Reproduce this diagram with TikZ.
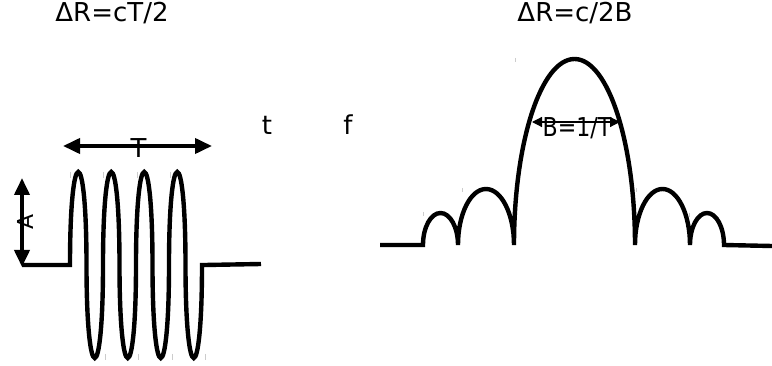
\documentclass[tikz,border=0pt]{standalone}
\usepackage{fontspec}
\setmainfont{DejaVu Sans}
\usetikzlibrary{arrows.meta}

\begin{document}
\begin{tikzpicture}[x=1pt, y=-1pt, line width=4.4pt,
	every node/.style={font=\fontsize{26}{30}\selectfont, inner sep=0pt},
	bigarrow/.style={{Triangle[length=17pt,width=15pt]}-{Triangle[length=17pt,width=15pt]}, line width=3.8pt},
	smallarrow/.style={{Triangle[length=10pt,width=10pt]}-{Triangle[length=10pt,width=10pt]}, line width=1.2pt},
	tickmark/.style={gray!40, line width=0.6pt}]
	\useasboundingbox (0,0) rectangle (772,366);
	\foreach \x in {70,103,137,170} \draw[tickmark] (\x,172) -- (\x,178);
	\foreach \x in {105,138,172,205} \draw[tickmark] (\x,354) -- (\x,360);
	\foreach \x/\y in {515/58, 423/212, 462/188, 636/188, 689/213} \draw[tickmark] (\x,\y) -- (\x,\y+4);
	\draw (22,265) -- (70,265)
		\foreach \i in {0,...,3} {
			.. controls ({70+33*\i},141) and ({86.5+33*\i},141) .. ({86.5+33*\i},265)
			.. controls ({86.5+33*\i},389) and ({103+33*\i},389) .. ({103+33*\i},265)
		} -- (205,265) -- (261,264);
	\draw (380,245) -- (423,245)
		arc[start angle=180, end angle=360, x radius=17.5, y radius=32]
		arc[start angle=180, end angle=360, x radius=28, y radius=56]
		arc[start angle=180, end angle=360, x radius=60.5, y radius=186]
		arc[start angle=180, end angle=360, x radius=27.5, y radius=56]
		arc[start angle=180, end angle=360, x radius=17, y radius=32]
		-- (772,246);
	\node[anchor=base] (rtime) at (112,22) {ΔR=cT/2};
	\node[anchor=base] (rfreq) at (575,22) {ΔR=c/2B};
	\node[anchor=base] (tlab) at (267,135) {t};
	\node[anchor=base] (flab) at (348,135) {f};
	\coordinate (tl) at (63,146);
	\coordinate (tr) at (212,146);
	\draw[bigarrow] (tl) -- (tr);
	\node[anchor=base] (tper) at (138.5,158) {T};
	\coordinate (atop) at (22,178);
	\coordinate (abot) at (22,267);
	\draw[bigarrow] (atop) -- (abot);
	\node[rotate=90, font=\fontsize{22}{26}\selectfont] (amp) at (25,222) {A};
	\coordinate (bl) at (532,122);
	\coordinate (br) at (620,122);
	\draw[smallarrow] (bl) -- (br);
	\node[anchor=base, xscale=0.85] (bw) at (577,137) {B=1/T};
\end{tikzpicture}
\end{document}
